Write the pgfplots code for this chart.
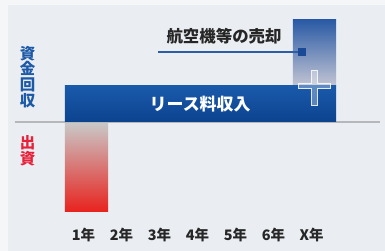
\documentclass[border=0pt]{standalone}
\usepackage{pgfplots}
\pgfplotsset{compat=1.18}
\usepackage{fontspec}
\newfontfamily\jp{Noto Sans CJK JP}
\definecolor{outerbg}{HTML}{F4F6F8}
\definecolor{panelbg}{HTML}{EAEEF2}
\definecolor{leasetop}{HTML}{1A5AAB}
\definecolor{leasebot}{HTML}{0C438F}
\definecolor{saletop}{HTML}{2A5AA5}
\definecolor{salebot}{HTML}{C4C6D4}
\definecolor{invtop}{HTML}{C9C7C7}
\definecolor{invbot}{HTML}{E8231E}
\definecolor{linecol}{HTML}{2C5EA8}
\definecolor{sqcol}{HTML}{1A4A95}
\definecolor{basecol}{HTML}{B5B7BA}
\definecolor{txtdark}{HTML}{262626}
\definecolor{yblue}{HTML}{1C5AA8}
\definecolor{yred}{HTML}{E8213A}
\begin{document}
\begin{tikzpicture}
\path[use as bounding box] (0,0) rectangle (385bp,251bp);
\fill[outerbg] (0,0) rectangle (385bp,251bp);
\fill[panelbg] (8bp,0) rectangle (385bp,246bp);
\begin{axis}[
  at={(48.5bp,25.5bp)}, anchor=south west,
  scale only axis, width=304bp, height=214bp,
  xmin=0, xmax=8, ymin=-104, ymax=110,
  clip=false,
  axis line style={draw=none},
  major tick length=0pt,
  ytick=\empty,
  xtick={1,2,3,4,5,6,7},
  xticklabels={1年,2年,3年,4年,5年,6年,X年},
  xticklabel style={font=\jp\bfseries\fontsize{14.5}{14.5}\selectfont, text=txtdark, anchor=north, inner sep=0pt, yshift=-2bp, xshift=-3bp},
]
% baseline
\addplot[draw=basecol, line width=2.5bp] coordinates {(-0.88,-0.6) (8.72,-0.6)};
% investment (出資), year 1
\addplot[draw=none, top color=invtop, bottom color=invbot] coordinates {(0.434,-2) (1.566,-2) (1.566,-90) (0.434,-90)} -- cycle;
% sale of aircraft, year X
\addplot[draw=none, top color=saletop, bottom color=salebot] coordinates {(6.434,35) (7.566,35) (7.566,101.5) (6.434,101.5)} -- cycle;
% lease income
\addplot[draw=none, top color=leasetop, bottom color=leasebot] coordinates {(0.434,0) (7.566,0) (7.566,36) (0.434,36)} -- cycle;
% plus sign
\addplot[fill=white, fill opacity=0.3, draw=white, draw opacity=0.85, line width=1bp] coordinates {
 (6.934,16) (7.066,16) (7.066,32.5) (7.421,32.5) (7.421,37.5) (7.066,37.5) (7.066,51) (6.934,51) (6.934,37.5) (6.579,37.5) (6.579,32.5) (6.934,32.5)} -- cycle;
% leader line and square
\addplot[draw=linecol, line width=1.5bp] coordinates {(2.88,69.5) (6.62,69.5)};
\addplot[only marks, mark=square*, mark size=3.5bp, color=sqcol] coordinates {(6.67,69.5)};
% labels
\node[font=\jp\bfseries\fontsize{16.5}{16.5}\selectfont, text=txtdark, inner sep=0pt] at (axis cs:4.62,85.5) {航空機等の売却};
\node[font=\jp\bfseries\fontsize{17}{17}\selectfont, text=white, inner sep=0pt] at (axis cs:3.99,17.5) {リース料収入};
\node[font=\jp\bfseries\fontsize{15.5}{15.8}\selectfont, text=yblue, inner sep=0pt, align=center] at (axis cs:-0.553,44.5) {資\\金\\回\\収};
\node[font=\jp\bfseries\fontsize{15.5}{15.8}\selectfont, text=yred, inner sep=0pt, align=center] at (axis cs:-0.553,-29.5) {出\\資};
\end{axis}
\end{tikzpicture}
\end{document}
